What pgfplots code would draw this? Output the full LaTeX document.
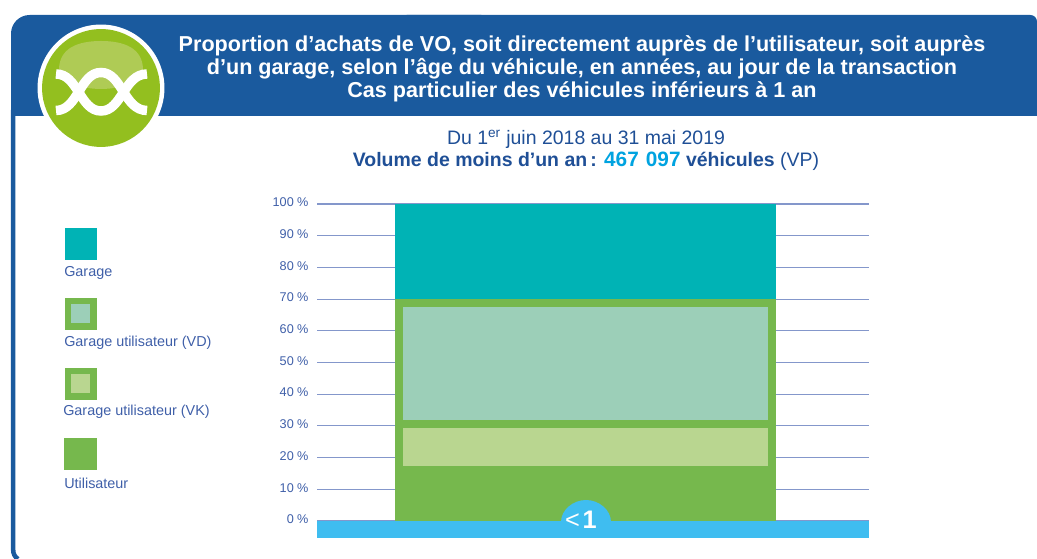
\documentclass[border=0pt]{standalone}
\usepackage{pgfplots}
\pgfplotsset{compat=1.18}
\usepackage{fontspec}
\setmainfont{Liberation Sans}
\definecolor{hdr}{HTML}{1A5A9E}
\definecolor{navy}{HTML}{1F4F96}
\definecolor{lbl}{HTML}{3F5FA8}
\definecolor{teal1}{HTML}{00B3B5}
\definecolor{grn}{HTML}{76B84D}
\definecolor{vd}{HTML}{9CCFB8}
\definecolor{vk}{HTML}{B9D690}
\definecolor{band}{HTML}{3FBDF0}
\definecolor{num}{HTML}{00A3E0}
\definecolor{logo}{HTML}{93BF1F}
\definecolor{logol}{HTML}{AFCB55}
\definecolor{gridc}{HTML}{8497CB}
\pgfplotstableread{
x util garage
0 70 30
}\maindata
\pgfplotstableread{
x gapa vk gapb vdd
0 17.3 12.0 2.6 35.6
}\innerdata
\begin{document}
\begin{tikzpicture}[x=0.75pt,y=0.75pt]
\path[use as bounding box] (0,0) rectangle (1037,559);
\begin{scope}[yshift=419.25pt,y=-0.75pt]
% frame
\fill[hdr,rounded corners=14pt] (11,80) -- (11,15) -- (500,15) -- (500,80) -- cycle;
\fill[hdr,rounded corners=5pt] (400,80) -- (400,15) -- (1037,15) -- (1037,80) -- cycle;
\fill[hdr] (11,50) rectangle (1037,116);
\draw[hdr,line width=3.4pt] (13.2,110) -- (13.2,550) .. controls (13.2,554) and (15,557) .. (18,559);
% logo
\fill[white] (101,88) circle[radius=47.6pt];
\fill[logo] (101,88) circle[radius=44.2pt];
\fill[logol] (59,70) .. controls (59,48) and (78,41) .. (101,41) .. controls (124,41) and (143,48) .. (143,70) .. controls (143,82) and (120,89) .. (101,89) .. controls (82,89) and (59,82) .. (59,70) -- cycle;
\draw[white,line width=7.1pt] (56,74) .. controls (78,74) and (80,111) .. (101,111) .. controls (122,111) and (124,74) .. (147,74);
\draw[white,line width=7.1pt] (56,110.5) .. controls (78,110.5) and (80,72.5) .. (101,72.5) .. controls (122,72.5) and (124,110.5) .. (147,110.5);
% header text
\node[white,font=\fontsize{16.2pt}{17.2pt}\selectfont\bfseries,align=center,anchor=center] at (582,68.5) {Proportion d’achats de VO, soit directement auprès de l’utilisateur, soit auprès\\d’un garage, selon l’âge du véhicule, en années, au jour de la transaction\\Cas particulier des véhicules inférieurs à 1 an};
\node[navy,font=\fontsize{14.6pt}{16.5pt}\selectfont,align=center,anchor=center] at (586,150.5) {Du 1\textsuperscript{er} juin 2018 au 31 mai 2019\\\textbf{Volume de moins d’un an\,: \textcolor{num}{\fontsize{15.6pt}{16.5pt}\selectfont 467\hspace{1pt} 097} véhicules} (VP)};
% legend
\fill[teal1] (65,228) rectangle (97,260);
\node[lbl,font=\fontsize{10.8pt}{11pt}\selectfont,anchor=west,inner sep=0] at (64,272.5) {Garage};
\fill[grn] (65,298) rectangle (97,330);
\fill[vd] (71,304) rectangle (90,323);
\node[lbl,font=\fontsize{10.8pt}{11pt}\selectfont,anchor=west,inner sep=0] at (64,342.5) {Garage utilisateur (VD)};
\fill[grn] (65,368) rectangle (97,400);
\fill[vk] (71,374) rectangle (90,393);
\node[lbl,font=\fontsize{10.8pt}{11pt}\selectfont,anchor=west,inner sep=0] at (63,412) {Garage utilisateur (VK)};
\fill[grn] (64,438) rectangle (97,470);
\node[lbl,font=\fontsize{10.8pt}{11pt}\selectfont,anchor=west,inner sep=0] at (64,483) {Utilisateur};
\end{scope}
% main axis
\begin{axis}[at={(237.75pt,28.5pt)},anchor=south west,scale only axis,width=414pt,height=237.75pt,
  ybar stacked,bar width=285.75pt,ymin=0,ymax=100,xmin=-0.7047,xmax=0.7441,
  axis x line=none,axis y line*=left,y axis line style={draw=none},
  ymajorgrids,grid style={gridc,line width=0.8pt},major tick length=0pt,
  ytick={0,10,...,100},
  yticklabel style={/pgf/number format/assume math mode=true,font=\fontsize{9.5pt}{10pt}\selectfont,text=lbl,xshift=-3pt,yshift=1.2pt},
  yticklabel={\pgfmathprintnumber{\tick}\hspace{2.4pt}\%},
  clip=false]
\addplot[fill=grn,draw=none] table[x=x,y=util]{\maindata};
\addplot[fill=teal1,draw=none] table[x=x,y=garage]{\maindata};
\end{axis}
% inner bars
\begin{axis}[at={(237.75pt,28.5pt)},anchor=south west,scale only axis,width=414pt,height=237.75pt,
  ybar stacked,bar width=274pt,ymin=0,ymax=100,xmin=-0.7047,xmax=0.7441,hide axis]
\addplot[fill=none,draw=none] table[x=x,y=gapa]{\innerdata};
\addplot[fill=vk,draw=none] table[x=x,y=vk]{\innerdata};
\addplot[fill=none,draw=none] table[x=x,y=gapb]{\innerdata};
\addplot[fill=vd,draw=none] table[x=x,y=vdd]{\innerdata};
\end{axis}
\begin{scope}[yshift=419.25pt,y=-0.75pt]
\fill[band] (317,521) rectangle (869,538);
\fill[band] (561,522) .. controls (561,510) and (573,500) .. (586,500) .. controls (599,500) and (611,510) .. (611,522) -- cycle;
\node[white,font=\fontsize{19pt}{20pt}\selectfont,inner sep=0] at (581,520) {<\hspace{2pt}\textbf{1}};
\end{scope}
\end{tikzpicture}
\end{document}
